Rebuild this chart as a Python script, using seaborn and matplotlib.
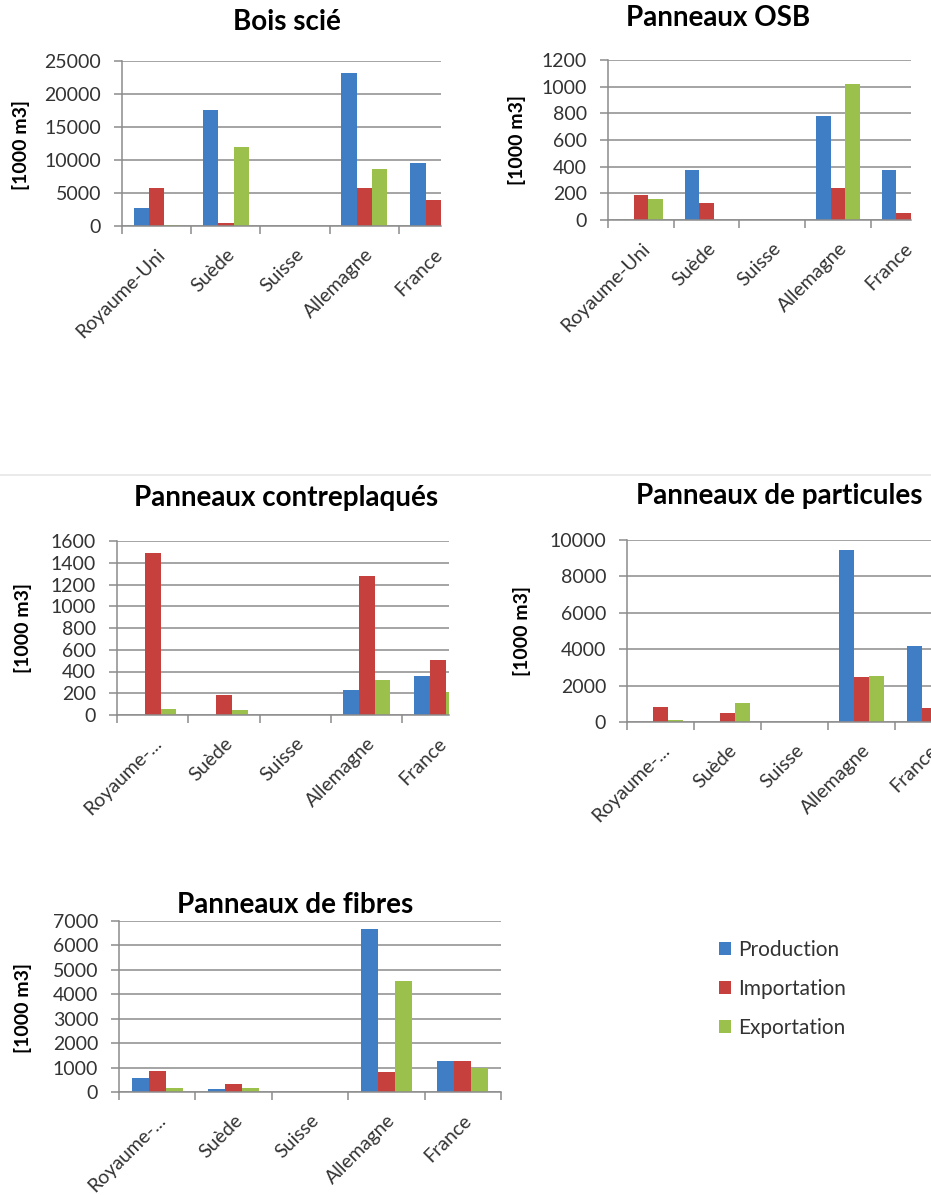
import numpy as np
import pandas as pd
import matplotlib
matplotlib.use("Agg")
import matplotlib.pyplot as plt
import seaborn as sns
from matplotlib.lines import Line2D
from matplotlib.patches import Patch

sns.set_theme(style="white")
plt.rcParams['font.family'] = ['Lato', 'DejaVu Sans']

# --- donnees (1000 m3) ---
pays = ['Royaume-Uni', 'Suède', 'Suisse', 'Allemagne', 'France']
flux = ['Production', 'Importation', 'Exportation']

bois_prod = [2700, 17500, 0, 23200, 9600]
bois_imp = [5800, 400, 0, 5800, 3900]
bois_exp = [200, 12000, 0, 8600, 600]

osb_prod = [0, 375, 0, 780, 375]
osb_imp = [185, 130, 0, 240, 55]
osb_exp = [155, 0, 0, 1020, 60]

contre_prod = [0, 0, 0, 233, 360]
contre_imp = [1490, 185, 0, 1280, 505]
contre_exp = [55, 43, 0, 320, 212]

part_prod = [0, 0, 0, 9450, 4150]
part_imp = [800, 480, 0, 2500, 770]
part_exp = [100, 1050, 0, 2550, 800]

fib_prod = [560, 140, 0, 6670, 1250]
fib_imp = [880, 340, 0, 830, 1250]
fib_exp = [180, 180, 0, 4560, 1000]

labels_long = ['Royaume-Uni', 'Suède', 'Suisse', 'Allemagne', 'France']
labels_court = ['Royaume-...', 'Suède', 'Suisse', 'Allemagne', 'France']

couleurs = ['#3F7DC4', '#C6413E', '#9BC04B']

W, H = 931, 1195
fig = plt.figure(figsize=(W / 100, H / 100), dpi=100)


def px_axes(left, right, top, bottom):
    return fig.add_axes([left / W, 1 - bottom / H, (right - left) / W, (bottom - top) / H])


def panneau(ax, prod, imp, exp, ticklabels, ymax, ystep, xright, titre, tpos, ypos):
    df = pd.DataFrame({
        'pays': pays * 3,
        'flux': np.repeat(flux, len(pays)),
        'valeur': prod + imp + exp,
    })
    sns.barplot(data=df, x='pays', y='valeur', hue='flux', hue_order=flux,
                palette=couleurs, saturation=1, width=0.667, ax=ax,
                legend=False, linewidth=0, errorbar=None)
    ax.set_yticks(np.arange(0, ymax + 1, ystep))
    ax.yaxis.grid(True, color='#8c8c8c', linewidth=1.1)
    ax.set_axisbelow(True)
    for s in ['top', 'right']:
        ax.spines[s].set_visible(False)
    for s in ['left', 'bottom']:
        ax.spines[s].set_color('#8c8c8c')
        ax.spines[s].set_linewidth(1.1)
    ax.set_xlabel('')
    ax.set_ylabel('')
    ax.set_xticks(range(len(pays)))
    ax.set_xticklabels(ticklabels, rotation=45, ha='right', rotation_mode='anchor',
                       fontsize=14, color='#333333')
    ax.tick_params(axis='x', length=0, pad=14)
    ax.set_xticks(np.arange(-0.5, len(pays)), minor=True)
    ax.tick_params(axis='x', which='minor', length=6, color='#8c8c8c', width=1.1,
                   direction='out', bottom=True)
    ax.tick_params(axis='y', length=6, color='#8c8c8c', width=1.1, direction='out',
                   labelsize=14, labelcolor='#333333', pad=9, left=True)
    ax.set_xlim(-0.5, xright)
    ax.set_ylim(0, ymax)
    fig.text(tpos[0] / W, 1 - tpos[1] / H, titre, ha='center', va='center',
             fontsize=20, fontweight='bold', color='black')
    fig.text(ypos[0] / W, 1 - ypos[1] / H, '[1000 m3]', ha='center', va='center',
             rotation=90, fontsize=14, fontweight='bold', color='black')


ax1 = px_axes(122, 441, 61, 226)
panneau(ax1, bois_prod, bois_imp, bois_exp, labels_long, 25000, 5000, 4.107,
        'Bois scié', (287, 22), (21, 145))

ax2 = px_axes(608, 911, 60, 220)
panneau(ax2, osb_prod, osb_imp, osb_exp, labels_long, 1200, 200, 4.11,
        'Panneaux OSB', (718, 18), (517, 140))

ax3 = px_axes(117, 449, 541, 715)
panneau(ax3, contre_prod, contre_imp, contre_exp, labels_court, 1600, 200, 4.154,
        'Panneaux contreplaqués', (286, 498), (23, 628))

ax4 = px_axes(627, 931, 540, 722)
panneau(ax4, part_prod, part_imp, part_exp, labels_court, 10000, 2000, 4.03,
        'Panneaux de particules', (779, 496), (522, 631))

ax5 = px_axes(119, 501, 921, 1092)
panneau(ax5, fib_prod, fib_imp, fib_exp, labels_court, 7000, 1000, 4.5,
        'Panneaux de fibres', (295, 905), (23, 1008))

# separateur horizontal
fig.add_artist(Line2D([0, 1], [1 - 475 / H, 1 - 475 / H], color='#e6e6e6', linewidth=1.2))

# legende
handles = [Patch(facecolor=c, edgecolor='none') for c in couleurs]
fig.legend(handles, flux, loc='upper left', bbox_to_anchor=(719 / W, 1 - 940 / H),
           frameon=False, fontsize=15, labelspacing=0.9, handlelength=0.58,
           handleheight=0.58, handletextpad=0.34, borderpad=0, borderaxespad=0,
           labelcolor='#333333')

fig.savefig('out.png', dpi=100, facecolor='white')
